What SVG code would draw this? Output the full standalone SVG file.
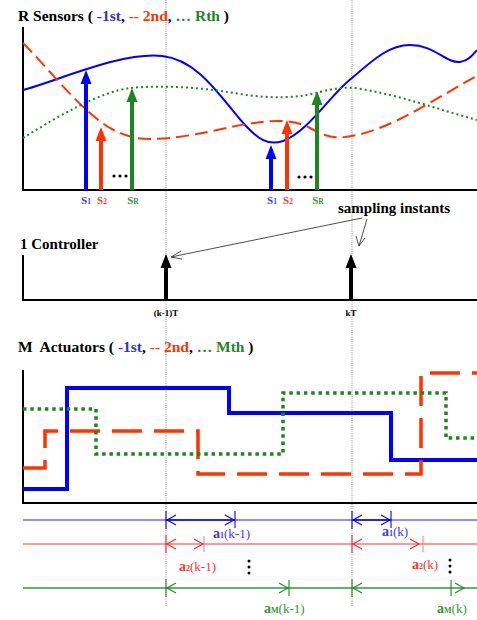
<svg xmlns="http://www.w3.org/2000/svg" width="477" height="620" viewBox="0 0 477 620">
<style>
.t{font-family:"Liberation Serif","Times New Roman",serif;font-weight:bold}
.n{font-family:"Liberation Serif","Times New Roman",serif;font-weight:normal}
.axis{stroke:#000;stroke-width:2;fill:none}
.vdot{stroke:#777;stroke-width:0.8;stroke-dasharray:1 1.2;fill:none}
.oh{fill:none;stroke-width:1.1}
.blue{fill:#0000ff}.red{fill:#ff3300}.green{fill:#1e861e}
.lb{fill:#3a3aff}.lr{fill:#ff3333}.lg{fill:#339933}
</style>
<rect width="477" height="620" fill="#fff"/>

<g id="guides">
<line class="vdot" x1="166" y1="0" x2="166" y2="607"/>
<line class="vdot" x1="352" y1="0" x2="352" y2="607"/>
</g>

<g id="sensors">
<text class="t" x="18" y="21" font-size="15.5" xml:space="preserve">R Sensors ( <tspan fill="#3333cc">-1st</tspan>, <tspan fill="#ff3300">-- 2nd</tspan>, <tspan fill="#1e861e">… Rth</tspan> )</text>
<path class="axis" d="M23,27 V190 H477"/>
<path d="M23,90 C60,80 120,52 162,56 C200,60 222,100 245,125 C258,139 268,146 283,141 C308,132 330,95 352,78 C375,58 390,45 410,45 C435,45 445,63 460,62 C468,61 473,55 477,50" fill="none" stroke="#0000ff" stroke-width="2"/>
<path d="M23,43 C50,70 80,110 110,128 C125,136 135,139 150,139 C190,139 230,125 262,122 C280,120 295,120 310,128 C325,136 330,138 345,137 C390,132 440,95 477,76" fill="none" stroke="#ff3300" stroke-width="2" stroke-dasharray="13 6"/>
<path d="M23,138 C60,115 100,92 130,88 C150,86 190,85 240,94 C270,99 300,98 320,92 C335,88 345,87 355,88 C400,95 440,110 477,120" fill="none" stroke="#1e861e" stroke-width="2" stroke-dasharray="2 3"/>
<g id="s1a"><line x1="86" y1="190" x2="86" y2="82" stroke="#0000ff" stroke-width="4"/><path class="blue" d="M86,70 L80.5,84 H91.5 Z"/></g>
<g id="s2a"><line x1="101" y1="190" x2="101" y2="139" stroke="#ff3300" stroke-width="4"/><path class="red" d="M101,127 L95.5,141 H106.5 Z"/></g>
<g id="sRa"><line x1="132" y1="190" x2="132" y2="100" stroke="#1e861e" stroke-width="4"/><path class="green" d="M132,88 L126.5,102 H137.5 Z"/></g>
<g id="s1b"><line x1="271" y1="190" x2="271" y2="157" stroke="#0000ff" stroke-width="4"/><path class="blue" d="M271,145 L265.5,159 H276.5 Z"/></g>
<g id="s2b"><line x1="287" y1="190" x2="287" y2="132" stroke="#ff3300" stroke-width="4"/><path class="red" d="M287,120 L281.5,134 H292.5 Z"/></g>
<g id="sRb"><line x1="317" y1="190" x2="317" y2="103" stroke="#1e861e" stroke-width="4"/><path class="green" d="M317,91 L311.5,105 H322.5 Z"/></g>
<g fill="#000"><circle cx="114" cy="176" r="1.6"/><circle cx="120" cy="176" r="1.6"/><circle cx="126" cy="176" r="1.6"/>
<circle cx="299" cy="177" r="1.6"/><circle cx="305" cy="177" r="1.6"/><circle cx="311" cy="177" r="1.6"/></g>
<g class="t" text-anchor="middle">
<text x="86" y="204" font-size="11" class="lb">S<tspan font-size="7.5">1</tspan></text>
<text x="102" y="204" font-size="11" class="lr">S<tspan font-size="7.5">2</tspan></text>
<text x="133" y="204" font-size="11" class="lg">S<tspan font-size="7.5">R</tspan></text>
<text x="272" y="204" font-size="11" class="lb">S<tspan font-size="7.5">1</tspan></text>
<text x="288" y="204" font-size="11" class="lr">S<tspan font-size="7.5">2</tspan></text>
<text x="318" y="204" font-size="11" class="lg">S<tspan font-size="7.5">R</tspan></text>
</g>
</g>

<g id="controller">
<text class="t" x="338" y="213" font-size="15">sampling instants</text>
<text class="t" x="20" y="249" font-size="15">1 Controller</text>
<path class="axis" d="M23,255 V300 H477"/>
<g id="c1"><line x1="166" y1="300" x2="166" y2="266" stroke="#000" stroke-width="4"/><path d="M166,254 L160.5,268 H171.5 Z"/></g>
<g id="c2"><line x1="351" y1="300" x2="351" y2="266" stroke="#000" stroke-width="4"/><path d="M351,254 L345.5,268 H356.5 Z"/></g>
<text class="t" x="166" y="316" font-size="9" text-anchor="middle">(k-1)T</text>
<text class="t" x="351" y="316" font-size="9" text-anchor="middle">kT</text>
</g>

<g id="connectors" stroke="#222" stroke-width="0.8" fill="none">
<line x1="362" y1="218" x2="171" y2="257"/>
<path d="M181,251 L171,257 L182,259"/>
<line x1="367" y1="219" x2="359" y2="246"/>
<path d="M356,236 L359,246 L365,238"/>
</g>

<g id="actuators">
<text class="t" x="18" y="352" font-size="15.5" xml:space="preserve">M  Actuators ( <tspan fill="#3333cc">-1st</tspan>, <tspan fill="#ff3300">-- 2nd</tspan>, <tspan fill="#1e861e">… Mth</tspan> )</text>
<path class="axis" d="M23,370 V503 H477"/>
<path d="M23,489 H67 V388 H229 V413 H391 V460 H477" fill="none" stroke="#0000ff" stroke-width="4"/>
<path d="M23,468 H45 V431 H198 V474 H421 V373 H477" fill="none" stroke="#ff3300" stroke-width="3.5" stroke-dasharray="30 12"/>
<path d="M23,409 H96 V454 H283 V393 H446 V438 H477" fill="none" stroke="#1e861e" stroke-width="3.5" stroke-dasharray="3.5 3.8"/>
</g>

<g id="timeline-a1">
<line x1="23" y1="520" x2="477" y2="520" stroke="#6a6aff" stroke-width="1.5"/>
<line x1="166" y1="520" x2="235" y2="520" stroke="#0000ee" stroke-width="1.5"/>
<line x1="352" y1="520" x2="391" y2="520" stroke="#0000ee" stroke-width="1.5"/>
<g stroke="#0000ee" class="oh"><line x1="166" y1="511" x2="166" y2="529"/><line x1="235" y1="511" x2="235" y2="528"/><line x1="352" y1="511" x2="352" y2="529"/><line x1="391" y1="511" x2="391" y2="528"/>
<path d="M176,515 L167,520 L176,525"/><path d="M225,515 L234,520 L225,525"/><path d="M362,515 L353,520 L362,525"/><path d="M381,515 L390,520 L381,525"/></g>
</g>
<g id="timeline-a2">
<line x1="23" y1="544" x2="477" y2="544" stroke="#ff3333" stroke-width="1"/>
<g stroke="#ff2222" class="oh"><line x1="166" y1="535" x2="166" y2="553"/><line x1="204" y1="536" x2="204" y2="552" stroke="#ff8080"/><line x1="352" y1="535" x2="352" y2="553"/><line x1="423" y1="536" x2="423" y2="552" stroke="#ff8080"/>
<path d="M176,539 L167,544 L176,549"/><path d="M194,539 L203,544 L194,549"/><path d="M362,539 L353,544 L362,549"/><path d="M410,539 L419,544 L410,549"/></g>
</g>
<g id="timeline-aM">
<line x1="23" y1="588" x2="477" y2="588" stroke="#339933" stroke-width="1.3"/>
<g stroke="#1e861e" class="oh"><line x1="166" y1="579" x2="166" y2="597"/><line x1="289" y1="580" x2="289" y2="596"/><line x1="352" y1="579" x2="352" y2="597"/><line x1="451" y1="580" x2="451" y2="596"/>
<path d="M176,583 L167,588 L176,593"/><path d="M279,583 L288,588 L279,593"/><path d="M362,583 L353,588 L362,593"/><path d="M455,583 L464,588 L455,593"/></g>
</g>

<g id="labels">
<text x="213" y="538" class="lb"><tspan class="t" font-size="14">a</tspan><tspan class="t" font-size="8">1</tspan><tspan class="n" font-size="13">(k-1)</tspan></text>
<text x="382" y="536" class="lb"><tspan class="t" font-size="14">a</tspan><tspan class="t" font-size="8">1</tspan><tspan class="n" font-size="13">(k)</tspan></text>
<text x="179" y="571" class="lr"><tspan class="t" font-size="14">a</tspan><tspan class="t" font-size="8">2</tspan><tspan class="n" font-size="13">(k-1)</tspan></text>
<text x="412" y="569" class="lr"><tspan class="t" font-size="14">a</tspan><tspan class="t" font-size="8">2</tspan><tspan class="n" font-size="13">(k)</tspan></text>
<text x="264" y="613" class="lg"><tspan class="t" font-size="14">a</tspan><tspan class="t" font-size="8">M</tspan><tspan class="n" font-size="13">(k-1)</tspan></text>
<text x="437" y="613" class="lg"><tspan class="t" font-size="14">a</tspan><tspan class="t" font-size="8">M</tspan><tspan class="n" font-size="13">(k)</tspan></text>
<g fill="#000"><circle cx="249" cy="561" r="1.5"/><circle cx="249" cy="567" r="1.5"/><circle cx="249" cy="573" r="1.5"/>
<circle cx="450" cy="560" r="1.5"/><circle cx="450" cy="566" r="1.5"/><circle cx="450" cy="572" r="1.5"/></g>
</g>
</svg>
